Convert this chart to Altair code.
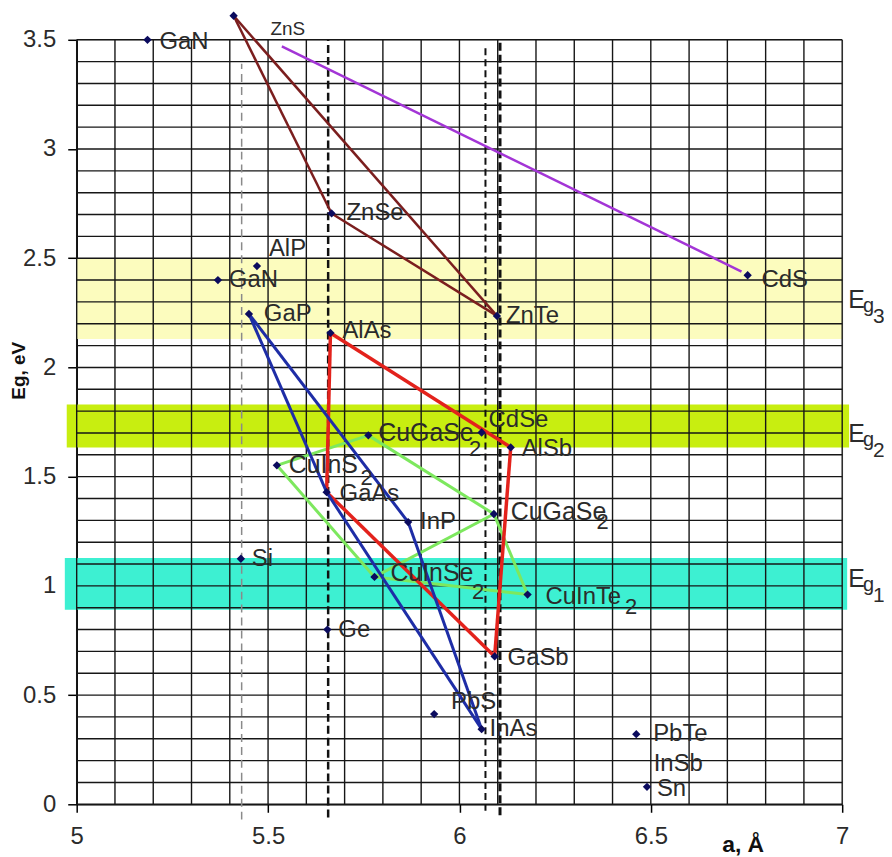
import altair as alt
import pandas as pd

# ---------------- data ----------------
keys = ["GaN_a", "ZnS", "ZnSe", "AlP", "GaN_b", "GaP", "AlAs", "ZnTe", "CdS",
        "CuGaSe2_a", "CdSe", "AlSb", "CuInS2", "GaAs", "InP", "CuGaSe2_b", "Si",
        "CuInSe2", "CuInTe2", "Ge", "GaSb", "PbS", "InAs", "PbTe", "Sn"]
names = ["GaN", "ZnS", "ZnSe", "AlP", "GaN", "GaP", "AlAs", "ZnTe", "CdS",
         "CuGaSe", "CdSe", "AlSb", "CuInS", "GaAs", "InP", "CuGaSe", "Si",
         "CuInSe", "CuInTe", "Ge", "GaSb", "PbS", "InAs", "PbTe", "Sn"]
subs = {"CuGaSe2_a": "2", "CuInS2": "2", "CuGaSe2_b": "2", "CuInSe2": "2", "CuInTe2": "2"}
lattice = [5.185, 5.41, 5.666, 5.471, 5.369, 5.45, 5.663, 6.098, 6.753,
           5.762, 6.058, 6.134, 5.523, 5.653, 5.866, 6.09, 5.429,
           5.778, 6.178, 5.655, 6.092, 5.934, 6.058, 6.462, 6.49]
gap = [3.50, 3.61, 2.705, 2.464, 2.40, 2.245, 2.158, 2.236, 2.422,
       1.689, 1.702, 1.634, 1.552, 1.429, 1.292, 1.329, 1.124,
       1.041, 0.96, 0.80, 0.677, 0.413, 0.344, 0.321, 0.08]

# label without a visible marker
extra_names = ["InSb"]
extra_lattice = [6.479]
extra_gap = [0.17]

# connecting lines
brown_edges = [("ZnS", "ZnSe"), ("ZnS", "ZnTe"), ("ZnSe", "ZnTe")]
red_edges = [("AlAs", "AlSb"), ("AlSb", "GaSb"), ("GaSb", "GaAs"), ("GaAs", "AlAs")]
blue_edges = [("GaP", "GaAs"), ("GaAs", "InAs"), ("InAs", "InP"), ("InP", "GaP")]
green_edges = [("CuInS2", "CuGaSe2_a"), ("CuGaSe2_a", "CuGaSe2_b"), ("CuGaSe2_b", "CuInSe2"),
               ("CuInSe2", "CuInS2"), ("CuGaSe2_b", "CuInTe2"), ("CuInTe2", "CuInSe2")]
purple_a = [5.536, 6.737]
purple_eg = [3.47, 2.439]

# vertical dashed reference lines
vline_a = [5.431, 5.657, 6.068, 6.106]
vline_top = [3.39, 3.5, 3.47, 3.5]
vline_bottom = [-0.07, -0.06, -0.03, -0.05]

# Eg bands
band_names = ["3", "2", "1"]
band_lo = [2.13, 1.634, 0.891]
band_hi = [2.50, 1.83, 1.128]
band_left = [5.0, 4.974, 4.969]
band_right = [7.0, 7.018, 7.013]
band_label_eg = [2.272, 1.657, 0.996]

x_ticks = [5, 5.5, 6, 6.5, 7]
y_ticks = [0, 0.5, 1, 1.5, 2, 2.5, 3, 3.5]
grid_x = [round(5 + 0.1 * i, 1) for i in range(21)]
grid_y = [round(0.1 * i, 1) for i in range(36)]

# ---------------- styles ----------------
FONT = "Liberation Sans"
TXT = "#2b2b2b"
band_colors = ["#FCFCBE", "#C8EE10", "#3DF0D2"]
vline_styles = [("#8a8a8a", 1.5, [8, 5]), ("#111111", 2.5, [8, 4]),
                ("#111111", 2.0, [7, 4]), ("#111111", 3.0, [8, 4])]
label_style = {  # dx, dy, fontSize, sub_dx, sub_dy
    "GaN_a": (12, 2, 24), "ZnS": (37, 13, 19), "ZnSe": (15, 0, 24), "AlP": (12, -17, 24),
    "GaN_b": (11, 0, 24), "GaP": (15, 0, 24), "AlAs": (12, -2, 24), "ZnTe": (9, 0, 24),
    "CdS": (14, 5, 24), "CuGaSe2_a": (10, -2, 25, 101, 14), "CdSe": (7, -13, 24),
    "AlSb": (11, 2, 24), "CuInS2": (12, 0, 25, 84, 13), "GaAs": (13, 2, 24),
    "InP": (12, 0, 24), "CuGaSe2_b": (17, -2, 25, 103, 8), "Si": (11, 0, 24),
    "CuInSe2": (16, -4, 25, 98, 15), "CuInTe2": (18, 2, 24, 98, 12), "Ge": (11, 0, 24),
    "GaSb": (13, 2, 24), "PbS": (17, -12, 24), "InAs": (8, 0, 24), "PbTe": (17, 0, 24),
    "Sn": (10, 2, 24), "InSb": (11, -3, 24),
}

# ---------------- tables ----------------
pts = pd.DataFrame({"key": keys, "name": names, "a": lattice, "eg": gap})
extra = pd.DataFrame({"key": extra_names, "name": extra_names, "a": extra_lattice, "eg": extra_gap})
all_lab = pd.concat([pts, extra], ignore_index=True)
lookup = {k: (a, e) for k, a, e in zip(keys, lattice, gap)}


def seg_table(edges):
    return pd.DataFrame([{"a": lookup[p][0], "eg": lookup[p][1],
                          "a2": lookup[q][0], "eg2": lookup[q][1]} for p, q in edges])


xs = alt.Scale(domain=[5, 7], nice=False, zero=False)
ys = alt.Scale(domain=[0, 3.5], nice=False, zero=False)

x_axis = alt.Axis(values=x_ticks, format="~g", grid=False, domainColor="black", domainWidth=1.5,
                  tickColor="black", tickWidth=1.5, tickSize=8, labelFont=FONT, labelFontSize=24,
                  labelColor=TXT, labelPadding=12, labelFlush=False, labelOverlap=False,
                  title="a, Å", titleFont=FONT, titleFontSize=23, titleFontWeight="bold",
                  titleColor="#111", titleX=669, titleY=47, titleAlign="center",
                  titleBaseline="alphabetic")
y_axis = alt.Axis(values=y_ticks, format="~g", grid=False, domainColor="black", domainWidth=1.5,
                  tickColor="black", tickWidth=1.5, tickSize=9, labelFont=FONT, labelFontSize=24,
                  labelColor=TXT, labelPadding=12, labelFlush=False, labelOverlap=False,
                  title="Eg, eV", titleFont=FONT, titleFontSize=19, titleFontWeight="bold",
                  titleColor="#111", titleX=-48, titleY=332, titleAlign="center",
                  titleBaseline="bottom")


def X(f):
    return alt.X(f, type="quantitative", scale=xs, axis=x_axis)


def Y(f):
    return alt.Y(f, type="quantitative", scale=ys, axis=y_axis)


layers = []

# bands
bands = pd.DataFrame({"b": band_names, "lo": band_lo, "hi": band_hi,
                      "l": band_left, "r": band_right})
layers.append(alt.Chart(bands).mark_rect(opacity=1).encode(
    x=X("l"), x2="r", y=Y("lo"), y2="hi",
    color=alt.Color("b:N", scale=alt.Scale(domain=band_names, range=band_colors), legend=None)))

# grid
layers.append(alt.Chart(pd.DataFrame({"g": grid_x})).mark_rule(color="#161616", strokeWidth=1.4)
              .encode(x=X("g")))
layers.append(alt.Chart(pd.DataFrame({"g": grid_y})).mark_rule(color="#161616", strokeWidth=1.4)
              .encode(y=Y("g")))

# dashed verticals
for i, (c, w, d) in enumerate(vline_styles):
    df = pd.DataFrame({"a": [vline_a[i]], "t": [vline_top[i]], "b": [vline_bottom[i]]})
    layers.append(alt.Chart(df).mark_rule(color=c, strokeWidth=w, strokeDash=d)
                  .encode(x=X("a"), y=Y("b"), y2="t"))

# polygons
for edges, col, w in [(green_edges, "#7DE85E", 3), (red_edges, "#E3221C", 3.5),
                      (blue_edges, "#1E2DA6", 3), (brown_edges, "#7B1E1E", 2.5)]:
    layers.append(alt.Chart(seg_table(edges)).mark_rule(color=col, strokeWidth=w)
                  .encode(x=X("a"), y=Y("eg"), x2="a2", y2="eg2"))

purple = pd.DataFrame({"a": [purple_a[0]], "eg": [purple_eg[0]],
                       "a2": [purple_a[1]], "eg2": [purple_eg[1]]})
layers.append(alt.Chart(purple).mark_rule(color="#A335D6", strokeWidth=2.5)
              .encode(x=X("a"), y=Y("eg"), x2="a2", y2="eg2"))

# markers
layers.append(alt.Chart(pts).mark_point(shape="diamond", filled=True, size=70, opacity=1,
                                        color="#0B0B5E").encode(x=X("a"), y=Y("eg")))

# labels
for k in list(keys) + extra_names:
    st = label_style[k]
    base = alt.Chart(all_lab).transform_filter(alt.datum.key == k)
    layers.append(base.mark_text(align="left", baseline="middle", font=FONT, fontSize=st[2],
                                 color=TXT, dx=st[0], dy=st[1])
                  .encode(x=X("a"), y=Y("eg"), text="name:N"))
    if k in subs:
        layers.append(base.mark_text(align="left", baseline="middle", font=FONT, fontSize=22,
                                     color=TXT, dx=st[3], dy=st[4], text=subs[k])
                      .encode(x=X("a"), y=Y("eg")))

# Eg labels
eglab = pd.DataFrame({"b": band_names, "eg": band_label_eg, "a": [7.0] * 3})
layers.append(alt.Chart(eglab).mark_text(align="left", baseline="alphabetic", font=FONT,
                                         fontSize=25, color=TXT, dx=6, text="E")
              .encode(x=X("a"), y=Y("eg")))
layers.append(alt.Chart(eglab).mark_text(align="left", baseline="alphabetic", font=FONT,
                                         fontSize=20, color=TXT, dx=21, dy=4, text="g")
              .encode(x=X("a"), y=Y("eg")))
layers.append(alt.Chart(eglab).mark_text(align="left", baseline="alphabetic", font=FONT,
                                         fontSize=21, color=TXT, dx=31, dy=15)
              .encode(x=X("a"), y=Y("eg"), text="b:N"))

chart = alt.layer(*layers).properties(
    width=769, height=768,
    autosize=alt.AutoSizeParams(type="none"),
    padding={"left": 69, "top": 30, "right": 42, "bottom": 50},
).configure_view(stroke=None).configure(background="white")

chart.save("out.html", embed_options={"renderer": "svg", "actions": False})
